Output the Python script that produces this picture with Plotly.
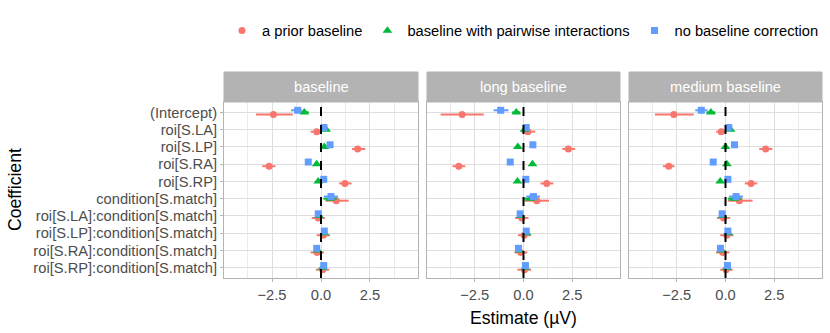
import plotly.graph_objects as go
from plotly.subplots import make_subplots

coefs = ["(Intercept)", "roi[S.LA]", "roi[S.LP]", "roi[S.RA]", "roi[S.RP]",
         "condition[S.match]", "roi[S.LA]:condition[S.match]",
         "roi[S.LP]:condition[S.match]", "roi[S.RA]:condition[S.match]",
         "roi[S.RP]:condition[S.match]"]
panels = ["baseline", "long baseline", "medium baseline"]
models = ["a prior baseline", "baseline with pairwise interactions", "no baseline correction"]

# estimates and interval bounds, per panel, per model (one value per coefficient)
est = {
    "baseline": {
        "a prior baseline": [-2.43, -0.22, 1.87, -2.65, 1.22, 0.78, -0.14, 0.12, -0.20, 0.08],
        "baseline with pairwise interactions": [-0.85, 0.26, 0.17, -0.22, -0.14, 0.46, -0.10, 0.17, -0.17, 0.08],
        "no baseline correction": [-1.19, 0.15, 0.46, -0.65, 0.14, 0.51, -0.14, 0.17, -0.22, 0.14],
    },
    "long baseline": {
        "a prior baseline": [-3.15, 0.22, 2.30, -3.32, 1.19, 0.68, -0.09, 0.03, -0.14, 0.05],
        "baseline with pairwise interactions": [-0.37, 0.05, -0.29, 0.46, -0.31, 0.34, -0.14, 0.17, -0.22, 0.10],
        "no baseline correction": [-1.17, 0.14, 0.48, -0.68, 0.12, 0.51, -0.17, 0.14, -0.26, 0.10],
    },
    "medium baseline": {
        "a prior baseline": [-2.65, -0.22, 2.06, -2.91, 1.31, 0.71, -0.10, 0.07, -0.14, 0.03],
        "baseline with pairwise interactions": [-0.75, 0.26, 0.00, 0.07, -0.27, 0.44, -0.14, 0.15, -0.22, 0.07],
        "no baseline correction": [-1.24, 0.17, 0.46, -0.63, 0.12, 0.54, -0.17, 0.12, -0.26, 0.10],
    },
}
lower = {
    "baseline": {
        "a prior baseline": [-3.32, -0.53, 1.58, -3.00, 0.92, 0.24, -0.47, -0.22, -0.53, -0.26],
        "baseline with pairwise interactions": [-1.08, 0.14, 0.06, -0.33, -0.25, 0.12, -0.21, 0.06, -0.28, -0.03],
        "no baseline correction": [-1.53, 0.03, 0.34, -0.78, 0.02, 0.15, -0.26, 0.05, -0.34, 0.02],
    },
    "long baseline": {
        "a prior baseline": [-4.25, -0.09, 1.99, -3.64, 0.87, 0.05, -0.43, -0.29, -0.46, -0.31],
        "baseline with pairwise interactions": [-0.58, -0.06, -0.40, 0.35, -0.42, 0.00, -0.25, 0.06, -0.33, -0.01],
        "no baseline correction": [-1.53, 0.02, 0.36, -0.81, 0.00, 0.14, -0.29, 0.02, -0.38, -0.02],
    },
    "medium baseline": {
        "a prior baseline": [-3.62, -0.48, 1.73, -3.21, 0.99, 0.12, -0.44, -0.27, -0.48, -0.27],
        "baseline with pairwise interactions": [-0.98, 0.14, -0.11, -0.04, -0.38, 0.12, -0.25, 0.04, -0.33, -0.04],
        "no baseline correction": [-1.55, 0.05, 0.34, -0.76, 0.00, 0.18, -0.29, 0.00, -0.38, -0.02],
    },
}
upper = {
    "baseline": {
        "a prior baseline": [-1.44, 0.03, 2.26, -2.33, 1.56, 1.41, 0.20, 0.46, 0.15, 0.42],
        "baseline with pairwise interactions": [-0.62, 0.38, 0.28, -0.11, -0.03, 0.80, 0.01, 0.28, -0.06, 0.19],
        "no baseline correction": [-0.98, 0.27, 0.58, -0.52, 0.26, 0.87, -0.02, 0.29, -0.10, 0.26],
    },
    "long baseline": {
        "a prior baseline": [-2.04, 0.60, 2.65, -2.99, 1.53, 1.31, 0.26, 0.37, 0.20, 0.39],
        "baseline with pairwise interactions": [-0.16, 0.16, -0.18, 0.57, -0.20, 0.68, -0.03, 0.28, -0.11, 0.21],
        "no baseline correction": [-0.77, 0.26, 0.60, -0.55, 0.24, 0.85, -0.05, 0.26, -0.14, 0.22],
    },
    "medium baseline": {
        "a prior baseline": [-1.63, 0.03, 2.40, -2.62, 1.63, 1.39, 0.24, 0.41, 0.20, 0.37],
        "baseline with pairwise interactions": [-0.52, 0.38, 0.11, 0.18, -0.16, 0.83, -0.03, 0.26, -0.11, 0.18],
        "no baseline correction": [-0.92, 0.29, 0.58, -0.50, 0.24, 0.90, -0.05, 0.24, -0.14, 0.22],
    },
}

colors = {"a prior baseline": "#F8766D",
          "baseline with pairwise interactions": "#00BA38",
          "no baseline correction": "#619CFF"}
symbols = {"a prior baseline": "circle",
           "baseline with pairwise interactions": "triangle-up",
           "no baseline correction": "square"}
dodge = {"a prior baseline": 0.12,
         "baseline with pairwise interactions": 0.0,
         "no baseline correction": -0.12}

W, H = 830, 333
FONT = "Liberation Sans, Arial, sans-serif"
fig = make_subplots(rows=1, cols=3, shared_yaxes=True)

for p, panel in enumerate(panels):
    for m in models:
        e = est[panel][m]
        lo = lower[panel][m]
        hi = upper[panel][m]
        fig.add_trace(go.Scatter(
            x=e, y=[i + dodge[m] for i in range(len(coefs))],
            mode="markers", name=m, legendgroup=m, showlegend=(p == 0),
            marker=dict(color=colors[m], symbol=symbols[m],
                        size=8.5 if m == "baseline with pairwise interactions" else 7),
            error_x=dict(type="data", symmetric=False,
                         array=[h - v for h, v in zip(hi, e)],
                         arrayminus=[v - l for v, l in zip(e, lo)],
                         width=0, thickness=2, color=colors[m]),
        ), row=1, col=p + 1)

# panel geometry in pixels
px_left = [224, 427, 629]
px_right = [418, 620, 822]
top, bottom, strip_top = 102, 278, 72

tick_font = dict(family=FONT, size=14.7, color="#4D4D4D")
for p in range(3):
    ax = "xaxis" if p == 0 else "xaxis%d" % (p + 1)
    fig.layout[ax].update(
        domain=[px_left[p] / W, px_right[p] / W], range=[-4.95, 4.95],
        tickvals=[-2.5, 0, 2.5], ticktext=["\u22122.5", "0.0", "2.5"],
        ticks="outside", ticklen=3, tickcolor="#B3B3B3", tickfont=tick_font,
        showgrid=True, gridcolor="#DEDEDE", gridwidth=1, automargin=False,
        minor=dict(tickvals=[-3.75, -1.25, 1.25, 3.75], showgrid=True,
                   gridcolor="#EBEBEB", gridwidth=0.6),
        zeroline=False, showline=True, mirror=True, linecolor="#B3B3B3", linewidth=1,
    )
    fig.add_vline(x=0, line=dict(color="black", width=2, dash="dash"), row=1, col=p + 1)
    fig.add_shape(type="rect", xref="paper", yref="paper",
                  x0=px_left[p] / W, x1=px_right[p] / W,
                  y0=1 - top / H, y1=1 - strip_top / H,
                  fillcolor="#B3B3B3", line=dict(color="#B3B3B3", width=1))
    fig.add_annotation(text=panels[p], xref="paper", yref="paper",
                       x=(px_left[p] + px_right[p]) / 2 / W,
                       y=1 - (top + strip_top) / 2 / H, showarrow=False,
                       xanchor="center", yanchor="middle",
                       font=dict(family=FONT, size=14.7, color="white"))

fig.update_yaxes(domain=[1 - bottom / H, 1 - top / H], range=[9.6, -0.6],
                 tickvals=list(range(len(coefs))), showgrid=True, automargin=False,
                 gridcolor="#DEDEDE", gridwidth=1, zeroline=False,
                 showline=True, mirror=True, linecolor="#B3B3B3", linewidth=1)
fig.update_yaxes(ticktext=coefs, ticks="outside", ticklen=3, tickcolor="#B3B3B3",
                 tickfont=tick_font, row=1, col=1)

fig.add_annotation(text="Estimate (\u00b5V)", xref="paper", yref="paper",
                   x=(px_left[0] + px_right[2]) / 2 / W, y=1 - 318 / H, showarrow=False,
                   xanchor="center", yanchor="middle",
                   font=dict(family=FONT, size=17.6, color="black"))
fig.add_annotation(text="Coefficient", xref="paper", yref="paper",
                   x=15 / W, y=1 - 190 / H, showarrow=False, textangle=-90,
                   xanchor="center", yanchor="middle",
                   font=dict(family=FONT, size=17.6, color="black"))

fig.update_layout(
    width=W, height=H, margin=dict(l=0, r=0, t=0, b=0),
    plot_bgcolor="white", paper_bgcolor="white",
    font=dict(family=FONT),
    legend=dict(orientation="h", x=222 / W, xanchor="left", y=1 - 31 / H, yanchor="middle",
                font=dict(size=14.7, color="black"), bgcolor="rgba(0,0,0,0)"),
)

# page body has a default 8px margin; drop it and hide scrollbars
page_fix = (
    "document.body.style.margin='0';"
    "document.body.style.overflow='hidden';"
    "document.documentElement.style.overflow='hidden';"
)
fig.write_html("out.html", config={"displayModeBar": False}, post_script=page_fix)
